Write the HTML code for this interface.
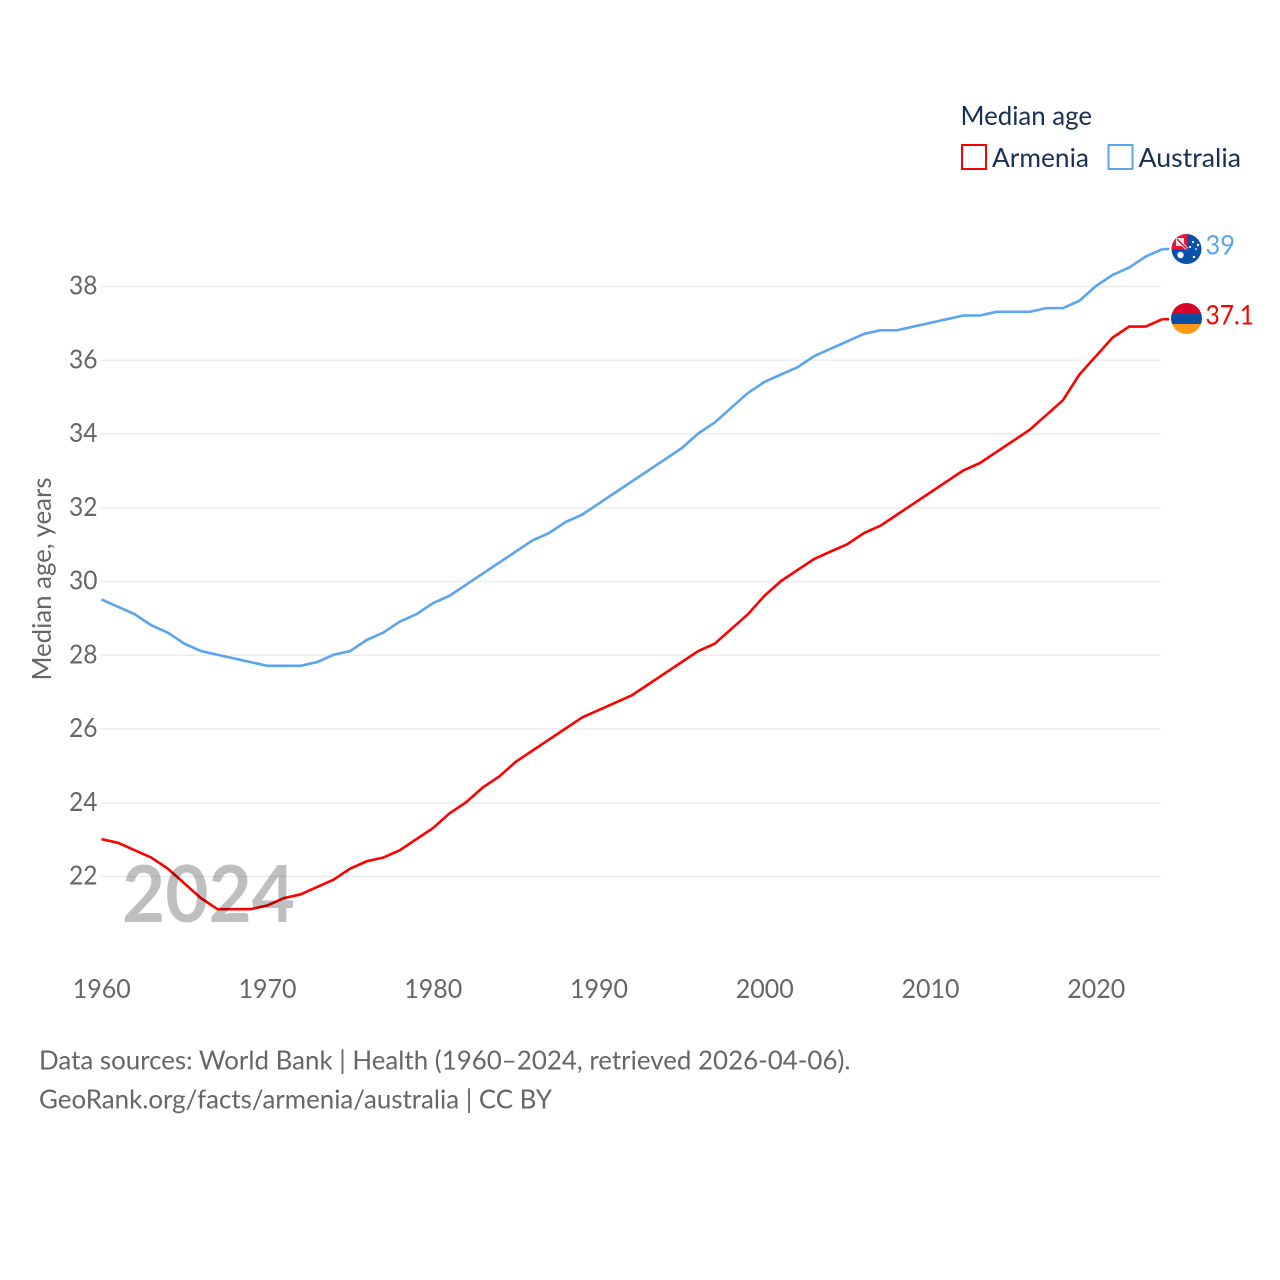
<!DOCTYPE html>
<html lang="en">
<head>
<meta charset="utf-8">
<title>Median age: Armenia and Australia</title>
<style>
html,body{margin:0;padding:0;background:#fff;width:1280px;height:1280px;overflow:hidden}
svg{display:block}
text{font-family:"Lato","Carlito","Liberation Sans",sans-serif}
</style>
</head>
<body>
<svg id="chart" width="1280" height="1280" viewBox="0 0 1280 1280" xmlns="http://www.w3.org/2000/svg">
  <rect x="0" y="0" width="1280" height="1280" fill="#fff"/>
  <g id="grid"></g>
  <g id="yticks"></g>
  <g id="xticks"></g>
  <text transform="translate(51 579) rotate(-90)" text-anchor="middle" font-size="26.5" fill="#666" textLength="203" lengthAdjust="spacingAndGlyphs">Median age, years</text>
  <g id="series" transform="translate(0 -0.5)"></g>
  <text x="122" y="922" font-size="79" fill="#000" fill-opacity="0.25" textLength="173" lengthAdjust="spacingAndGlyphs" style="font-weight:700">2024</text>

  <g>
    <text x="960.5" y="125" font-size="26.5" fill="#1a2f55" textLength="131.5" lengthAdjust="spacingAndGlyphs">Median age</text>
    <g>
      <rect x="962" y="145" width="24" height="24" fill="none" stroke="#ff0000" stroke-width="2"/>
      <text x="992" y="167" font-size="26.5" fill="#1a2f55" textLength="97" lengthAdjust="spacingAndGlyphs">Armenia</text>
    </g>
    <g>
      <rect x="1108.5" y="145" width="24" height="24" fill="none" stroke="#5ba4ee" stroke-width="2"/>
      <text x="1138.5" y="167" font-size="26.5" fill="#1a2f55" textLength="102.5" lengthAdjust="spacingAndGlyphs">Australia</text>
    </g>
  </g>

  <defs>
    <clipPath id="flag-clip-au"><circle cx="1186.5" cy="249" r="15"/></clipPath>
    <clipPath id="flag-clip-am"><circle cx="1186.5" cy="318.5" r="15.5"/></clipPath>
  </defs>

  <g clip-path="url(#flag-clip-au)">
    <rect x="1171" y="233" width="32" height="33" fill="#0b50aa"/>
    <rect x="1171" y="233" width="16" height="16" fill="#e8173c"/>
    <rect x="1176" y="238" width="8" height="8" fill="#f4dfe2"/>
    <path d="M1177 239 L1187 249" stroke="#fff" stroke-width="3"/>
    <path d="M1177 239 L1187 249" stroke="#c8103a" stroke-width="1.4"/>
    <circle cx="1180.5" cy="255" r="3.2" fill="#fff"/>
    <circle cx="1190" cy="247" r="1.1" fill="#fff"/>
    <circle cx="1198" cy="245" r="1.2" fill="#fff"/>
    <circle cx="1193" cy="242" r="1.1" fill="#fff"/>
    <circle cx="1194" cy="257" r="1.2" fill="#fff"/>
    <circle cx="1196" cy="249" r="0.9" fill="#fff"/>
  </g>
  <g clip-path="url(#flag-clip-am)">
    <rect x="1171" y="303" width="31" height="11" fill="#d90429"/>
    <rect x="1171" y="314" width="31" height="10" fill="#0b4ea2"/>
    <rect x="1171" y="324" width="31" height="11" fill="#ff9a17"/>
  </g>
  <text x="1205.5" y="254.5" font-size="27.5" fill="#5ba4ee" textLength="29.5" lengthAdjust="spacingAndGlyphs">39</text>
  <text x="1205.5" y="324.5" font-size="27.5" fill="#ff0000" textLength="48.5" lengthAdjust="spacingAndGlyphs">37.1</text>

  <text x="39" y="1069.5" font-size="26.5" fill="#666" textLength="811.5" lengthAdjust="spacingAndGlyphs">Data sources: World Bank | Health (1960–2024, retrieved 2026-04-06).</text>
  <text x="39" y="1108.5" font-size="26.5" fill="#666" textLength="513" lengthAdjust="spacingAndGlyphs">GeoRank.org/facts/armenia/australia | CC BY</text>
</svg>
<script>
const years = [1960,1961,1962,1963,1964,1965,1966,1967,1968,1969,1970,1971,1972,1973,1974,1975,1976,1977,1978,1979,1980,1981,1982,1983,1984,1985,1986,1987,1988,1989,1990,1991,1992,1993,1994,1995,1996,1997,1998,1999,2000,2001,2002,2003,2004,2005,2006,2007,2008,2009,2010,2011,2012,2013,2014,2015,2016,2017,2018,2019,2020,2021,2022,2023,2024];
const armenia = [23.0,22.9,22.7,22.5,22.2,21.8,21.4,21.1,21.1,21.1,21.2,21.4,21.5,21.7,21.9,22.2,22.4,22.5,22.7,23.0,23.3,23.7,24.0,24.4,24.7,25.1,25.4,25.7,26.0,26.3,26.5,26.7,26.9,27.2,27.5,27.8,28.1,28.3,28.7,29.1,29.6,30.0,30.3,30.6,30.8,31.0,31.3,31.5,31.8,32.1,32.4,32.7,33.0,33.2,33.5,33.8,34.1,34.5,34.9,35.6,36.1,36.6,36.9,36.9,37.1];
const australia = [29.5,29.3,29.1,28.8,28.6,28.3,28.1,28.0,27.9,27.8,27.7,27.7,27.7,27.8,28.0,28.1,28.4,28.6,28.9,29.1,29.4,29.6,29.9,30.2,30.5,30.8,31.1,31.3,31.6,31.8,32.1,32.4,32.7,33.0,33.3,33.6,34.0,34.3,34.7,35.1,35.4,35.6,35.8,36.1,36.3,36.5,36.7,36.8,36.8,36.9,37.0,37.1,37.2,37.2,37.3,37.3,37.3,37.4,37.4,37.6,38.0,38.3,38.5,38.8,39.0];
const yTickValues = [22,24,26,28,30,32,34,36,38];
const xTickValues = [1960,1970,1980,1990,2000,2010,2020];

const NS = 'http://www.w3.org/2000/svg';
function xScale(year) { return 101.5 + (year - 1960) * 16.575; }
function yScale(age) { return 876.5 - (age - 22) * 36.875; }

function make(tag, attrs, parent) {
  const el = document.createElementNS(NS, tag);
  for (const k in attrs) el.setAttribute(k, attrs[k]);
  parent.appendChild(el);
  return el;
}

const gridGroup = document.getElementById('grid');
const yGroup = document.getElementById('yticks');
const xGroup = document.getElementById('xticks');
const seriesGroup = document.getElementById('series');

yTickValues.forEach(function (v) {
  const line = make('line', {x1: 101, x2: 1161, y1: yScale(v), y2: yScale(v), stroke: '#ececec', 'stroke-width': 1.5}, gridGroup);
  
  
  const label = make('text', {x: 97.5, y: yScale(v) + 8, 'text-anchor': 'end', 'font-size': 26.5, fill: '#666', textLength: 28.5, lengthAdjust: 'spacingAndGlyphs'}, yGroup);
  
  
  label.textContent = String(v);
});

xTickValues.forEach(function (v) {
  const label = make('text', {x: xScale(v) + 0.3, y: 998, 'text-anchor': 'middle', 'font-size': 26.5, fill: '#666', textLength: 58, lengthAdjust: 'spacingAndGlyphs'}, xGroup);
  
  
  label.textContent = String(v);
});

function drawSeries(values, color, name) {
  const pts = values.map(function (v, i) { return xScale(years[i]).toFixed(2) + ',' + yScale(v).toFixed(2); });
  const last = values[values.length - 1];
  const line = make('polyline', {points: pts.join(' '), fill: 'none', stroke: color, 'stroke-width': 2.6, 'stroke-linejoin': 'round'}, seriesGroup);
  
  
  const tail = make('line', {x1: xScale(years[years.length - 1]), x2: 1169, y1: yScale(last), y2: yScale(last), stroke: color, 'stroke-width': 2.6}, seriesGroup);
  
  
}

drawSeries(armenia, '#ff0000', 'line-armenia');
drawSeries(australia, '#5ba4ee', 'line-australia');
</script>
</body>
</html>
